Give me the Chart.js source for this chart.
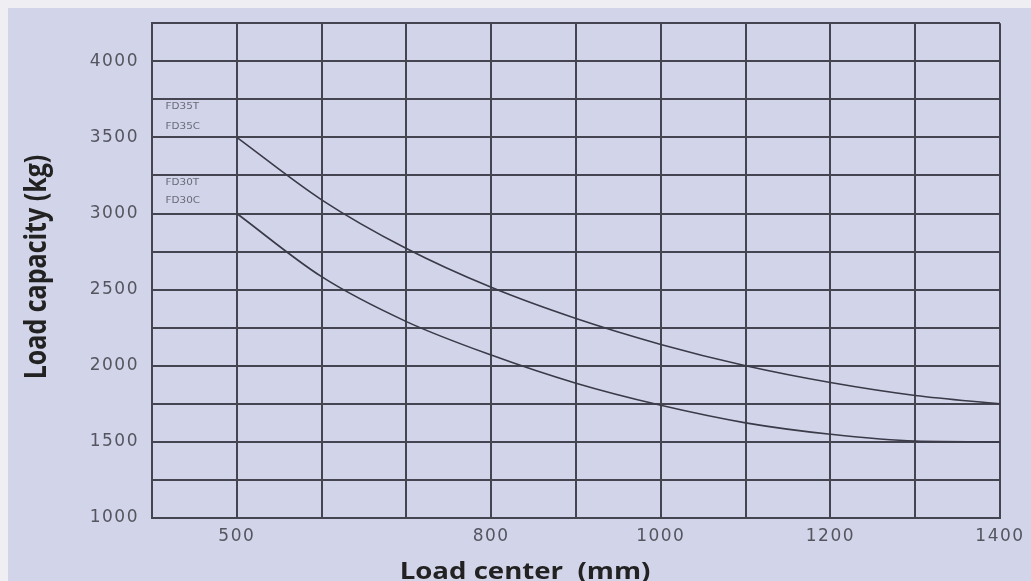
<!DOCTYPE html>
<html>
<head>
<meta charset="utf-8">
<script src="https://cdn.jsdelivr.net/npm/chart.js@4"></script>
<style>
  html, body { margin: 0; padding: 0; background: #eeeef3; }
  #wrap { width: 1031px; height: 581px; }
</style>
</head>
<body>
<div id="wrap"><canvas id="capacityChart" width="1031" height="581"></canvas></div>
<script>
// load center (mm) and rated capacity (kg)
const loadCenter = [500, 600, 700, 800, 900, 1000, 1100, 1200, 1300, 1400];
const fd35 = [3500, 3090, 2770, 2515, 2310, 2140, 2000, 1890, 1805, 1750];
const fd30 = [3000, 2585, 2290, 2070, 1885, 1740, 1625, 1550, 1505, 1500];
const xTickLabels = [500, 800, 1000, 1200, 1400];
const yTickLabels = [1000, 1500, 2000, 2500, 3000, 3500, 4000];
const seriesNotes = [
  { text: 'FD35T', y: 3700 },
  { text: 'FD35C', y: 3570 },
  { text: 'FD30T', y: 3200 },
  { text: 'FD30C', y: 3080 }
];

var toPoints = function(ys) {
  return loadCenter.map(function(x, i) { return { x: x, y: ys[i] }; });
};

// background, small model notes and the two axis titles
// (the source picture is stretched sideways, so text gets a little x-scale)
const decor = {
  id: 'decor',
  beforeDraw: function(chart) {
    const c = chart.ctx;
    c.fillStyle = '#d2d4e9';
    c.fillRect(8, 8, chart.width - 8, chart.height - 8);
    c.letterSpacing = '1.5px';
  },
  afterDraw: function(chart) {
    const c = chart.ctx;
    const xs = chart.scales.x, ys = chart.scales.y;
    c.letterSpacing = '0px';
    c.save();
    c.fillStyle = '#6a6a78';
    c.font = '8px "DejaVu Sans"';
    c.textAlign = 'left';
    c.textBaseline = 'middle';
    seriesNotes.forEach(function(n) {
      c.save();
      c.translate(xs.getPixelForValue(416), ys.getPixelForValue(n.y));
      c.scale(1.3, 1);
      c.fillText(n.text, 0, 0);
      c.restore();
    });
    c.restore();

    c.save();
    c.fillStyle = '#222';
    c.font = 'bold 25px "Open Sans"';
    c.textAlign = 'center';
    c.textBaseline = 'alphabetic';
    c.translate(46, 267);
    c.scale(1.2, 1);
    c.rotate(-Math.PI / 2);
    c.fillText('Load capacity (kg)', 0, 0);
    c.restore();

    c.save();
    c.fillStyle = '#222';
    c.font = 'bold 24px "Open Sans"';
    c.textAlign = 'center';
    c.textBaseline = 'alphabetic';
    c.translate(525, 579);
    c.scale(1.15, 1);
    c.fillText('Load center  (mm)', 0, 0);
    c.restore();
  }
};

const lineStyle = {
  borderColor: '#3a3a48',
  borderWidth: 1.6,
  pointRadius: 0,
  fill: false,
  cubicInterpolationMode: 'monotone'
};

const ctx = document.getElementById('capacityChart').getContext('2d');
const capacityChart = new Chart(ctx, {
  type: 'line',
  data: {
    datasets: [
      Object.assign({ label: 'FD35T / FD35C', data: toPoints(fd35) }, lineStyle),
      Object.assign({ label: 'FD30T / FD30C', data: toPoints(fd30) }, lineStyle)
    ]
  },
  options: {
    responsive: false,
    animation: false,
    layout: { padding: { left: 8, top: 16.5, right: 31, bottom: 0 } },
    plugins: {
      legend: { display: false },
      tooltip: { enabled: false }
    },
    scales: {
      x: {
        type: 'linear',
        min: 400,
        max: 1400,
        grid: { color: '#454552', lineWidth: 2, drawTicks: false },
        border: { color: '#454552', width: 2 },
        ticks: {
          stepSize: 100,
          autoSkip: false,
          maxRotation: 0,
          padding: 8,
          color: '#55555f',
          font: { family: '"DejaVu Sans"', size: 17 },
          callback: function(v) { return xTickLabels.indexOf(v) >= 0 ? String(v) : ''; }
        },
        afterFit: function(s) { s.height = 63; }
      },
      y: {
        min: 1000,
        max: 4250,
        grid: { color: '#454552', lineWidth: 2, drawTicks: false },
        border: { color: '#454552', width: 2 },
        ticks: {
          stepSize: 250,
          autoSkip: false,
          padding: 13,
          color: '#55555f',
          font: { family: '"DejaVu Sans"', size: 17 },
          callback: function(v) { return yTickLabels.indexOf(v) >= 0 ? String(v) : ''; }
        },
        afterFit: function(s) { s.width = 144; }
      }
    }
  },
  plugins: [decor]
});
</script>
</body>
</html>
